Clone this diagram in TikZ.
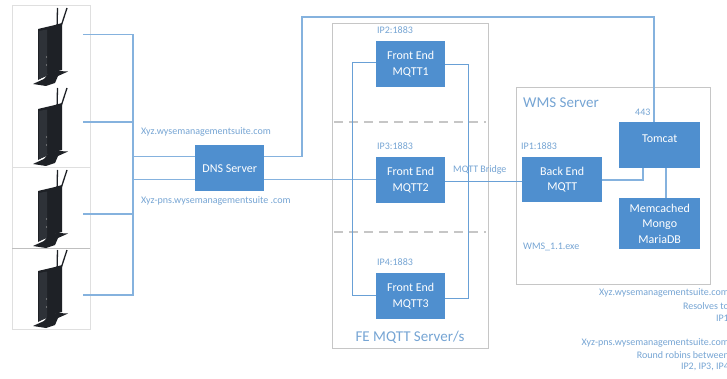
\documentclass[tikz,border=0pt]{standalone}
\usepackage{fontspec}
\setmainfont{Carlito}
\definecolor{boxblue}{HTML}{4F8FCF}
\definecolor{wire}{HTML}{85B2DE}
\definecolor{labelblue}{HTML}{76A5D4}
\definecolor{frameg}{HTML}{C6C6C6}
\definecolor{devdark}{HTML}{1E2126}
\definecolor{devface}{HTML}{2E3238}
\tikzset{
  bluebox/.style={draw=none,fill=boxblue,text=white,align=center,inner sep=0pt,font=\fontsize{12}{15.5}\selectfont,anchor=north west},
  framebox/.style={draw=frameg,line width=1.2pt,fill=none,anchor=north west,inner sep=0pt},
  wireline/.style={draw=wire,line width=1.2pt},
  thinwire/.style={draw=boxblue!85!white,line width=0.9pt},
  smalltext/.style={text=labelblue,font=\fontsize{10}{12.4}\selectfont,inner sep=0pt},
  titletext/.style={text=labelblue,font=\fontsize{15}{17}\selectfont,inner sep=0pt},
  devnode/.style={inner sep=0pt,minimum width=50pt,minimum height=2pt},
  dashline/.style={draw=frameg,line width=1.2pt,dash pattern=on 9pt off 6pt},
  tileline/.style={draw=gray!25,line width=0.5pt}
}
\newcommand{\devicedraw}[1]{%
  \begin{scope}[yshift=-#1pt]
    \draw[devdark,line width=1.3pt] (57,31) -- (57.5,8);
    \draw[devdark,line width=1.3pt] (60.5,28) -- (67,8);
    \fill[devdark] (38,29) -- (55,25) -- (62,23) -- (62,70) -- (51,73) -- (38,80) -- cycle;
    \fill[devface] (39,31) -- (47,29.5) -- (47,76) -- (39,79) -- cycle;
    \fill[devdark] (33,84) -- (44,79) -- (50,72) -- (58,71) -- (68,71.5) -- (58,76) -- (55,83) -- (46,86) -- cycle;
    \fill[gray!70] (46.5,57) circle (0.6pt) (46.5,65) circle (0.6pt);
  \end{scope}}
\begin{document}
\begin{tikzpicture}[x=1pt,y=-1pt]
\useasboundingbox (0,0) rectangle (727,379);
\fill[white] (0,0) rectangle (727,379);
% device tiles
\draw[tileline] (12,5) rectangle (90,329);
\draw[tileline] (12,167) -- (90,167);
\draw[tileline,gray!50] (12,248) -- (90,248);
\devicedraw{0}\devicedraw{80}\devicedraw{162}\devicedraw{242}
\node[devnode] (t1) at (58,34.5) {};
\node[devnode] (t2) at (58,122) {};
\node[devnode] (t3) at (58,214) {};
\node[devnode] (t4) at (58,295) {};
% frames
\node[framebox,minimum width=156pt,minimum height=325pt] (fe) at (332,23) {};
\node[framebox,minimum width=194pt,minimum height=197pt] (wms) at (516,87) {};
\draw[dashline] (334,122) -- (486,122);
\draw[dashline] (334,232) -- (486,232);
% boxes
\node[bluebox,minimum width=69pt,minimum height=46pt] (dns) at (195,145) {DNS Server};
\node[bluebox,minimum width=69pt,minimum height=46pt] (m1) at (376,41) {Front End\\MQTT1};
\node[bluebox,minimum width=69pt,minimum height=46pt] (m2) at (376,157) {Front End\\MQTT2};
\node[bluebox,minimum width=69pt,minimum height=46pt] (m3) at (376,273) {Front End\\MQTT3};
\node[bluebox,minimum width=80pt,minimum height=45pt] (be) at (522,157) {Back End\\MQTT};
\node[bluebox,minimum width=81pt,minimum height=46pt,text depth=14pt] (tom) at (619,122) {Tomcat};
\node[bluebox,minimum width=81pt,minimum height=51pt] (mem) at (619,198) {Memcached\\Mongo\\MariaDB};
% bus
\coordinate (busT) at (133,34.5);
\coordinate (busB) at (133,295);
\draw[wireline] (t1.east) -- (busT) -- (busB) -- (t4.east);
\draw[wireline] (t2.east) -- (t2.east -| busT);
\draw[wireline] (t3.east) -- (t3.east -| busT);
\draw[wireline] (busT |- 0,156.5) -- (dns.west |- 0,156.5);
\draw[wireline] (busT |- 0,179.5) -- (dns.west |- 0,179.5);
% dns to tomcat
\coordinate (upL) at (302,17);
\draw[wireline] (dns.east |- 0,156.5) -- (upL |- 0,156.5) -- (upL) -- (654,17) -- (654,0 |- tom.north);
% dns to mqtt2
\draw[wireline] (dns.east |- 0,179.5) -- (m2.west |- 0,179.5);
% buses of the front ends
\coordinate (lb) at (352,62);
\coordinate (rb) at (468,64);
\draw[thinwire] (m1.west |- lb) -- (lb) -- (352,295) -- (m3.west |- 0,295);
\draw[thinwire] (m1.east |- rb) -- (rb) -- (468,298) -- (m3.east |- 0,298);
% bridge
\draw[thinwire] (m2.east |- 0,181) -- (be.west |- 0,181);
% back end to tomcat
\draw[wireline] (be.east |- 0,180) -- (643,180) -- (643,0 |- tom.south);
\draw[wireline] (666,0 |- tom.south) -- (666,0 |- mem.north);
% labels
\node[smalltext,anchor=west] (l1) at (141,132) {Xyz.wysemanagementsuite.com};
\node[smalltext,anchor=west] (l2) at (141,201) {Xyz-pns.wysemanagementsuite .com};
\node[smalltext,anchor=west] (ip2) at (377,30) {IP2:1883};
\node[smalltext,anchor=west] (ip3) at (377,146) {IP3:1883};
\node[smalltext,anchor=west] (ip4) at (377,262) {IP4:1883};
\node[smalltext,anchor=west] (br) at (453,170) {MQTT Bridge};
\node[smalltext,anchor=west] (ip1) at (521,146) {IP1:1883};
\node[smalltext,anchor=west] (p443) at (635,112) {443};
\node[smalltext,anchor=west] (exe) at (523,247) {WMS\_1.1.exe};
\node[titletext,anchor=west] (wt) at (523,103) {WMS Server};
\node[titletext,anchor=center] (ft) at (410,337) {FE MQTT Server/s};
\begin{scope}
\clip (0,0) rectangle (727,379);
\node[smalltext,anchor=east] (r1) at (729,293) {Xyz.wysemanagementsuite.com};
\node[smalltext,anchor=east] (r2) at (729,306) {Resolves to};
\node[smalltext,anchor=east] (r3) at (729,318) {IP1};
\node[smalltext,anchor=east] (r4) at (729,343) {Xyz-pns.wysemanagementsuite.com};
\node[smalltext,anchor=east] (r5) at (729,355) {Round robins between};
\node[smalltext,anchor=east] (r6) at (729,367) {IP2, IP3, IP4};
\end{scope}
\end{tikzpicture}
\end{document}
